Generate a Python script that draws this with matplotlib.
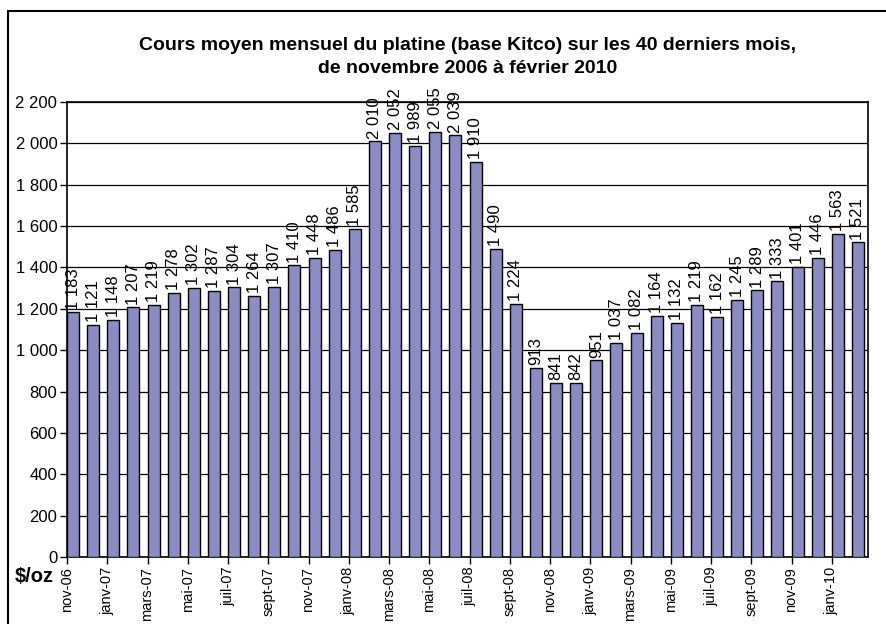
import matplotlib.pyplot as plt
from matplotlib.patches import Rectangle

plt.rcParams['font.family'] = ['Liberation Sans', 'DejaVu Sans']

months = ['nov-06', 'déc-06', 'janv-07', 'févr-07', 'mars-07', 'avr-07', 'mai-07', 'juin-07',
          'juil-07', 'août-07', 'sept-07', 'oct-07', 'nov-07', 'déc-07', 'janv-08', 'févr-08',
          'mars-08', 'avr-08', 'mai-08', 'juin-08', 'juil-08', 'août-08', 'sept-08', 'oct-08',
          'nov-08', 'déc-08', 'janv-09', 'févr-09', 'mars-09', 'avr-09', 'mai-09', 'juin-09',
          'juil-09', 'août-09', 'sept-09', 'oct-09', 'nov-09', 'déc-09', 'janv-10', 'févr-10']
prices = [1183, 1121, 1148, 1207, 1219, 1278, 1302, 1287, 1304, 1264, 1307, 1410, 1448, 1486,
          1585, 2010, 2052, 1989, 2055, 2039, 1910, 1490, 1224, 913, 841, 842, 951, 1037, 1082,
          1164, 1132, 1219, 1162, 1245, 1289, 1333, 1401, 1446, 1563, 1521]
yticks = list(range(0, 2201, 200))


def fr(v):
    return '{:,}'.format(v).replace(',', ' ')


fig = plt.figure(figsize=(8.86, 6.24), dpi=100)
ax = fig.add_axes([67 / 886, 1 - 557 / 624, 801 / 886, 455 / 624])

x = list(range(len(prices)))
ax.bar(x, prices, width=0.6, align='edge', color='#8B8BC6', edgecolor='black',
       linewidth=1, zorder=3)
for xi, v in zip(x, prices):
    ax.annotate(fr(v), (xi + 0.3, v), xytext=(0, 2), textcoords='offset points',
                rotation=90, ha='center', va='bottom', fontsize=12, zorder=4)

ax.set_xlim(0, 39.8)
ax.set_ylim(0, 2200)
ax.set_yticks(yticks)
ax.set_yticklabels([fr(t) for t in yticks], fontsize=12)
ax.set_xticks(x[::2])
ax.set_xticklabels(months[::2], rotation=90, fontsize=10.5)
ax.tick_params(axis='both', direction='out', length=5, width=1, color='black', pad=2)
ax.yaxis.grid(True, color='black', linewidth=0.9, zorder=0)

for s in ax.spines.values():
    s.set_linewidth(1.2)

fig.text(468 / 886, 1 - 57 / 624,
         'Cours moyen mensuel du platine (base Kitco) sur les 40 derniers mois,\n'
         'de novembre 2006 à février 2010',
         ha='center', va='center', fontsize=14, fontweight='bold', linespacing=1.45)
fig.text(34 / 886, 1 - 577 / 624, '$/oz', ha='center', va='center',
         fontsize=14.5, fontweight='bold')

fig.patches.append(Rectangle((8 / 886, -0.1), 1.2, 1.1 - 11 / 624,
                             transform=fig.transFigure, fill=False,
                             edgecolor='black', linewidth=1.5))

plt.savefig('out.png', dpi=100)
